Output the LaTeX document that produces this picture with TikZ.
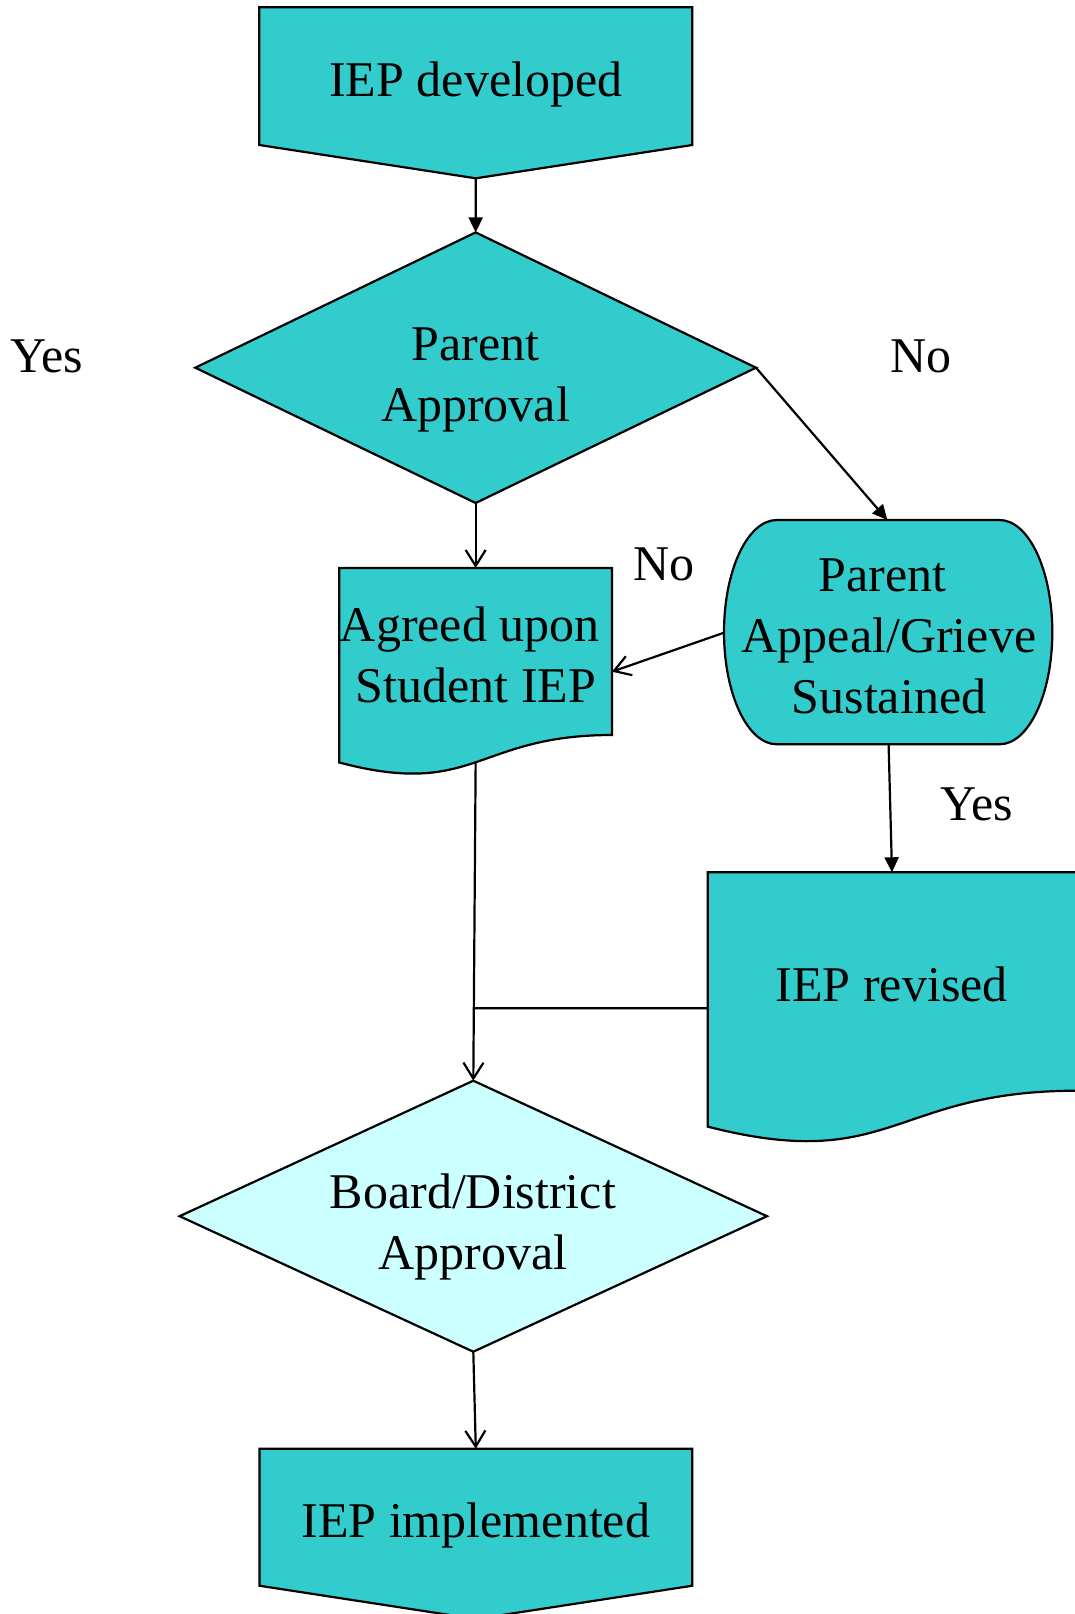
\documentclass[tikz,border=0pt]{standalone}
\usepackage{fontspec}
\setmainfont{Liberation Serif}
\usetikzlibrary{shapes.geometric,arrows.meta,calc}
\definecolor{tealbox}{HTML}{33CCCC}
\definecolor{palebox}{HTML}{CCFFFF}
\tikzset{
  outline/.style={draw=black, line width=2.2pt, line join=miter},
  tealshape/.style={outline, fill=tealbox},
  paleshape/.style={outline, fill=palebox},
  decision/.style={diamond, draw=black, line width=2.2pt, inner sep=0pt, outer sep=0pt},
  txt/.style={font=\fontsize{50}{61}\selectfont, align=center, inner sep=0pt, outer sep=0pt},
  solidarrow/.style={line width=2.2pt, -{Triangle[length=15pt,width=14pt]}},
  openarrow/.style={line width=2.2pt, -{Straight Barb[length=16pt,width=20pt]}},
  plainline/.style={line width=2.2pt},
}
\begin{document}
\begin{tikzpicture}[x=1pt,y=1pt]
\useasboundingbox (0,0) rectangle (1075,-1614);

% IEP developed (off-page connector)
\path[tealshape] (259.3,-7.3) -- (692.3,-7.3) -- (692.3,-145) -- (475.8,-178.3) -- (259.3,-145) -- cycle;
\coordinate (devtip) at (475.8,-178.3);
\node[txt] (dev) at (475.8,-84.5) {IEP developed};

% Parent Approval (decision)
\node[decision, fill=tealbox, aspect=2.07, minimum width=560.7pt, minimum height=270.6pt] (pa) at (475.65,-367.7) {};
\node[txt] (patxt) at (475.65,-379.6) {Parent\\Approval};

% Agreed upon Student IEP (document)
\path[tealshape] (339.3,-568) -- (612,-568) -- (612,-735)
  .. controls (475.65,-735) and (475.65,-798.6) .. (339.3,-762.5) -- cycle;
\coordinate (agtop) at (475.65,-568);
\coordinate (agbot) at (475.65,-762.3);
\coordinate (agright) at (612,-671.7);
\node[txt] (ag) at (476,-654.6) {Agreed upon\kern12.5pt\\Student IEP};

% Parent Appeal/Grieve Sustained (terminator)
\path[tealshape] (776.8,-520) -- (999.5,-520)
  arc[start angle=90, end angle=-90, x radius=52.8, y radius=112.15]
  -- (776.8,-744.3)
  arc[start angle=270, end angle=90, x radius=52.8, y radius=112.15] -- cycle;
\coordinate (aptop) at (887.3,-520);
\coordinate (apleft) at (724,-632.7);
\coordinate (apbot) at (888.6,-744.3);
\node[txt] (ap) at (889,-636.4) {Parent\kern12.5pt\\Appeal/Grieve\\Sustained};

% IEP revised (document, cut at right edge)
\path[tealshape] (707.7,-872.3) -- (1077,-872.3) -- (1077,-1090.7)
  .. controls (892,-1090.7) and (892,-1173.9) .. (707.7,-1126.6) -- cycle;
\coordinate (rvtop) at (892,-872.3);
\coordinate (rvleft) at (707.7,-1008.3);
\coordinate (rvaux) at (300,-1008.3);
\node[txt] (rv) at (891.7,-984.6) {IEP revised};

% Board/District Approval (decision)
\node[decision, fill=palebox, aspect=2.17, minimum width=587.4pt, minimum height=271pt] (bd) at (473.3,-1216.2) {};
\node[txt] (bdtxt) at (472.9,-1227.3) {Board/District\\Approval};

% IEP implemented (off-page connector)
\path[tealshape] (259.4,-1448.7) -- (692.3,-1448.7) -- (692.3,-1585.7) -- (475.85,-1619) -- (259.4,-1585.7) -- cycle;
\coordinate (imtop) at (475.8,-1448.7);
\node[txt] (im) at (475.85,-1525.4) {IEP implemented};

% Labels
\node[txt] (yes1) at (46.8,-356.4) {Yes};
\node[txt] (no1) at (920.8,-356.4) {No};
\node[txt] (no2) at (664.2,-564.7) {No};
\node[txt] (yes2) at (976.5,-804) {Yes};

% Connectors
\draw[solidarrow] (devtip) -- (pa.north);
\draw[solidarrow] (pa.east) -- (aptop);
\draw[openarrow] (pa.south) -- (agtop);
\draw[openarrow] (apleft) -- (agright);
\draw[solidarrow] (apbot) -- (rvtop);
\draw[openarrow] (agbot) -- (bd.north);
\coordinate (join) at (intersection of agbot--bd.north and rvleft--rvaux);
\draw[plainline] (rvleft) -- (join);
\draw[openarrow] (bd.south) -- (imtop);
\end{tikzpicture}
\end{document}
